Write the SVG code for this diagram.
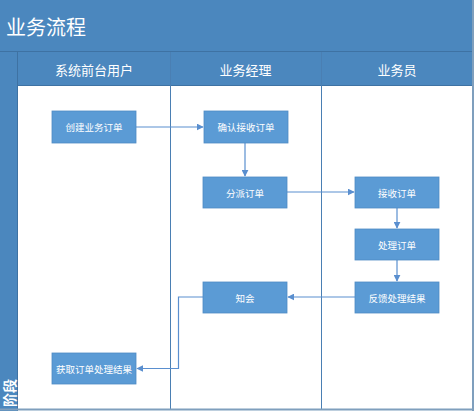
<svg xmlns="http://www.w3.org/2000/svg" width="474" height="411" viewBox="0 0 474 411">
<defs>
<style>
.bar{fill:#4b87be}
.ln{stroke:#3e72a3;stroke-width:1;fill:none}
.node rect{fill:#5b9bd5;stroke:#4f8bc4;stroke-width:0.8}
.node text{fill:#fff;font-family:"Noto Sans CJK SC","Liberation Sans",sans-serif;font-size:9.5px;text-anchor:middle;dominant-baseline:central}
.hd{fill:#fff;font-family:"Noto Sans CJK SC","Liberation Sans",sans-serif;font-size:13px;text-anchor:middle;dominant-baseline:central}
.cn{stroke:#5a8fcf;stroke-width:1.2;fill:none;marker-end:url(#ah)}
.sh{fill:#c9d6e3}
</style>
<marker id="ah" viewBox="0 0 10 10" refX="9" refY="5" markerWidth="7" markerHeight="7" orient="auto" markerUnits="userSpaceOnUse">
<path d="M0,0 L10,5 L0,10 z" fill="#5a8fcf"/>
</marker>
</defs>
<rect x="0" y="0" width="474" height="411" fill="#fff"/>
<g id="frame">
<rect class="bar" x="0" y="0" width="474" height="86"/>
<rect class="bar" x="0" y="0" width="18" height="411"/>
<rect x="18" y="86" width="455" height="324" fill="#fff"/>
<line class="ln" x1="0" y1="51.5" x2="474" y2="51.5"/>
<line class="ln" x1="17.5" y1="52" x2="17.5" y2="411"/>
<line class="ln" x1="18" y1="85.5" x2="474" y2="85.5"/>
<line x1="170.5" y1="52" x2="170.5" y2="410" stroke="#4a7fb3" stroke-width="1"/>
<line x1="321.5" y1="52" x2="321.5" y2="410" stroke="#4a7fb3" stroke-width="1"/>
<line x1="473" y1="0" x2="473" y2="411" stroke="#7f9fbd" stroke-width="2"/>
<line x1="0" y1="409.5" x2="474" y2="409.5" stroke="#7f9fbd" stroke-width="2"/>
<text x="6" y="26" fill="#fff" font-family="'Noto Sans CJK SC','Liberation Sans',sans-serif" font-size="20" dominant-baseline="central">业务流程</text>
<text class="hd" x="94" y="69">系统前台用户</text>
<text class="hd" x="245.5" y="69">业务经理</text>
<text class="hd" x="397" y="69">业务员</text>
<text x="9" y="393" fill="#fff" font-family="'Noto Sans CJK SC','Liberation Sans',sans-serif" font-size="14" font-weight="bold" text-anchor="middle" dominant-baseline="central" transform="rotate(-90 9 393)">阶段</text>
</g>
<g id="connectors">
<path class="cn" d="M136,127 L203,127"/>
<path class="cn" d="M245,143 L245,176"/>
<path class="cn" d="M287,192 L354,192"/>
<path class="cn" d="M397,208 L397,228"/>
<path class="cn" d="M397,260 L397,281"/>
<path class="cn" d="M355,297 L288,297"/>
<path class="cn" d="M203,297 L178.5,297 L178.5,368.5 L137,368.5"/>
</g>
<g id="n1" class="node"><rect x="52" y="111" width="84" height="32"/><text x="94" y="127">创建业务订单</text></g>
<g id="n2" class="node"><rect x="204" y="111" width="84" height="32"/><text x="246" y="127">确认接收订单</text></g>
<g id="n3" class="node"><rect x="203" y="177" width="84" height="31"/><text x="245" y="192.5">分派订单</text></g>
<g id="n4" class="node"><rect x="355" y="177" width="84" height="31"/><text x="397" y="192.5">接收订单</text></g>
<g id="n5" class="node"><rect x="355" y="229" width="84" height="31"/><text x="397" y="244.5">处理订单</text></g>
<g id="n6" class="node"><rect x="355" y="282" width="84" height="31"/><text x="397" y="297.5">反馈处理结果</text></g>
<g id="n7" class="node"><rect x="203" y="282" width="84" height="31"/><text x="245" y="297.5">知会</text></g>
<g id="n8" class="node"><rect x="52" y="353" width="84" height="31"/><text x="94" y="368.5">获取订单处理结果</text></g>
</svg>
